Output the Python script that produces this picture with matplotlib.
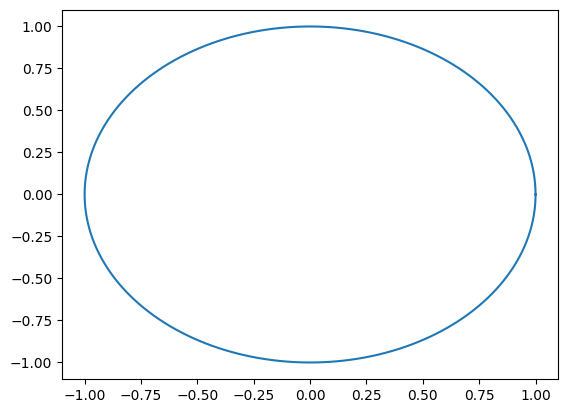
import numpy as np
import matplotlib
matplotlib.use("Agg")
import matplotlib.pyplot as plt

# unit circle: centre and radius
center_x = 0.0
center_y = 0.0
radius = 1.0
n_points = 200

angles = np.linspace(0, 2 * np.pi, n_points)
x = center_x + radius * np.cos(angles)
y = center_y + radius * np.sin(angles)

fig, ax = plt.subplots(figsize=(6.4, 4.8))
ax.plot(x, y)
fig.savefig("out.png", dpi=100, bbox_inches="tight")
